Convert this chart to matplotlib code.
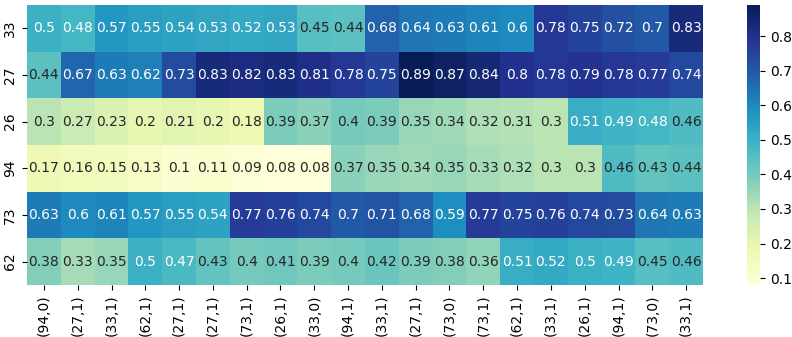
import matplotlib
matplotlib.use("Agg")
import matplotlib.pyplot as plt
import numpy as np
import seaborn as sns

row_labels = ["33", "27", "26", "94", "73", "62"]
col_labels = ["(94,0)", "(27,1)", "(33,1)", "(62,1)", "(27,1)", "(27,1)", "(73,1)",
              "(26,1)", "(33,0)", "(94,1)", "(33,1)", "(27,1)", "(73,0)", "(73,1)",
              "(62,1)", "(33,1)", "(26,1)", "(94,1)", "(73,0)", "(33,1)"]

row_33 = [0.5, 0.48, 0.57, 0.55, 0.54, 0.53, 0.52, 0.53, 0.45, 0.44,
          0.68, 0.64, 0.63, 0.61, 0.6, 0.78, 0.75, 0.72, 0.7, 0.83]
row_27 = [0.44, 0.67, 0.63, 0.62, 0.73, 0.83, 0.82, 0.83, 0.81, 0.78,
          0.75, 0.89, 0.87, 0.84, 0.8, 0.78, 0.79, 0.78, 0.77, 0.74]
row_26 = [0.3, 0.27, 0.23, 0.2, 0.21, 0.2, 0.18, 0.39, 0.37, 0.4,
          0.39, 0.35, 0.34, 0.32, 0.31, 0.3, 0.51, 0.49, 0.48, 0.46]
row_94 = [0.17, 0.16, 0.15, 0.13, 0.1, 0.11, 0.09, 0.08, 0.08, 0.37,
          0.35, 0.34, 0.35, 0.33, 0.32, 0.3, 0.3, 0.46, 0.43, 0.44]
row_73 = [0.63, 0.6, 0.61, 0.57, 0.55, 0.54, 0.77, 0.76, 0.74, 0.7,
          0.71, 0.68, 0.59, 0.77, 0.75, 0.76, 0.74, 0.73, 0.64, 0.63]
row_62 = [0.38, 0.33, 0.35, 0.5, 0.47, 0.43, 0.4, 0.41, 0.39, 0.4,
          0.42, 0.39, 0.38, 0.36, 0.51, 0.52, 0.5, 0.49, 0.45, 0.46]

data = np.array([row_33, row_27, row_26, row_94, row_73, row_62])

fig = plt.figure(figsize=(7.92, 3.37), dpi=100)
ax = fig.add_axes([27 / 792, 1 - 285 / 337, 676 / 792, 280 / 337])
cax = fig.add_axes([747 / 792, 1 - 285 / 337, 13 / 792, 280 / 337])

sns.heatmap(data, ax=ax, cbar_ax=cax, cmap="YlGnBu", annot=True,
            xticklabels=col_labels, yticklabels=row_labels,
            annot_kws={"fontsize": 10})
ax.tick_params(labelsize=10)
plt.setp(ax.get_xticklabels(), rotation=90)
plt.setp(ax.get_yticklabels(), rotation=90, va="center")
cax.tick_params(labelsize=10)

fig.savefig("out.png", dpi=100)
